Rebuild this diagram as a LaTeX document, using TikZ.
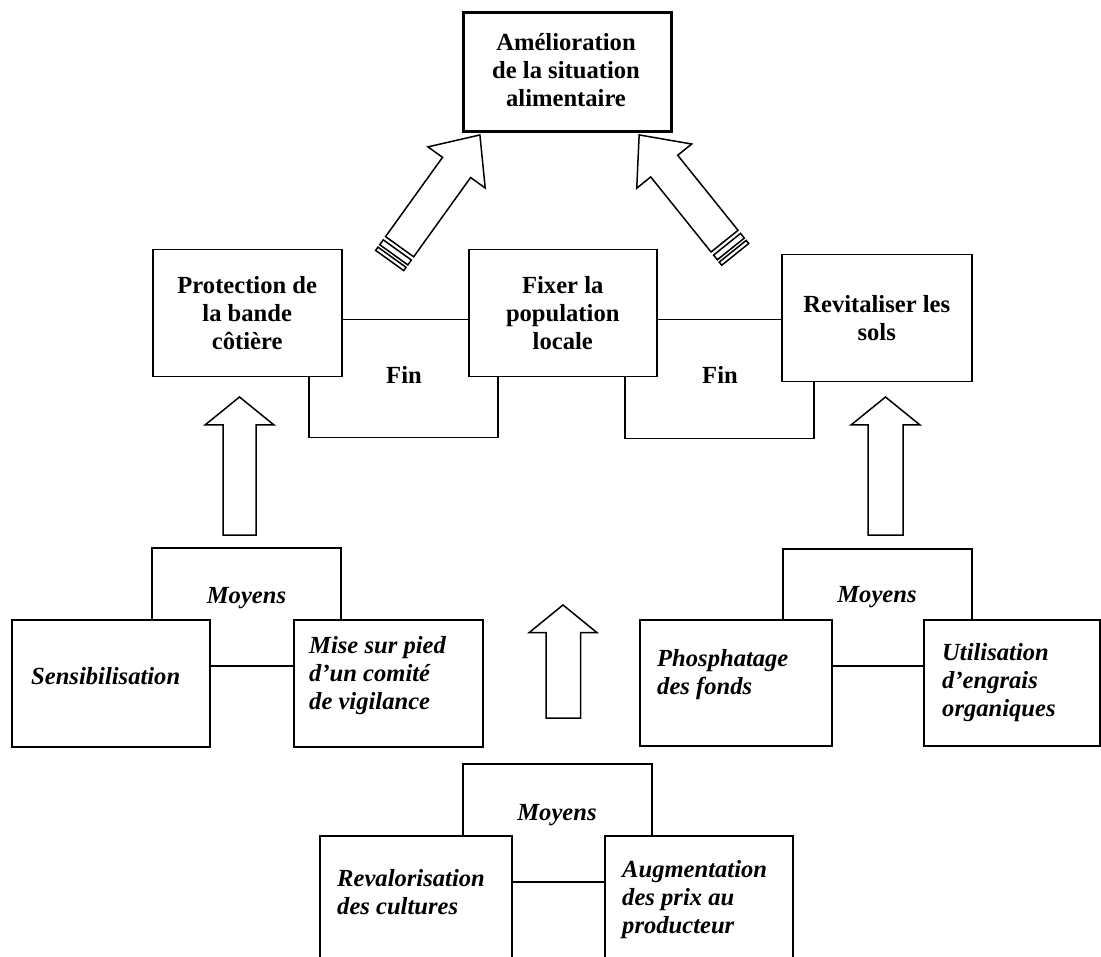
\documentclass[tikz,border=0pt]{standalone}
\usepackage{fontspec}
\setmainfont{Liberation Serif}
\usetikzlibrary{calc}
\begin{document}
\begin{tikzpicture}[x=1pt,y=-1pt,
  box/.style={draw, line width=1.5pt, inner sep=0pt, anchor=north west},
  lbl/.style={inner sep=0pt, font=\fontsize{24.6}{28}\selectfont\bfseries, align=center},
  ilbl/.style={inner sep=0pt, font=\fontsize{24.6}{28}\selectfont\bfseries\itshape, align=left, anchor=west},
  ln/.style={line width=1.5pt},
  blockarrow/.style={draw, line width=1.5pt, fill=white, line join=miter}]
\useasboundingbox (0,0) rectangle (1101,957);
\clip (0,0) rectangle (1101,957);

% top goal
\node[box, line width=3.3pt, minimum width=208pt, minimum height=119pt] (top) at (462,11) {};
\node[lbl] (toptxt) at (566,70.5) {Amélioration\\de la situation\\alimentaire};

% ends
\node[box, minimum width=189pt, minimum height=127pt] (prot) at (152,249) {};
\node[lbl] (prottxt) at (prot.center) {Protection de\\la bande\\côtière};
\node[box, minimum width=188pt, minimum height=127pt] (fix) at (468,249) {};
\node[lbl] (fixtxt) at (fix.center) {Fixer la\\population\\locale};
\node[box, minimum width=190pt, minimum height=127pt] (revit) at (781,254) {};
\node[lbl] (revittxt) at (revit.center) {Revitaliser les\\sols};

\coordinate (pf) at ([yshift=-6.5pt]prot.east);
\draw[ln] (pf) -- (pf -| fix.west);
\coordinate (fr) at ([yshift=-6.5pt]fix.east);
\draw[ln] (fr) -- (fr -| revit.west);

\draw[ln] ($(prot.south west)+(157,0)$) -- ++(0,60) -| ($(fix.south west)+(30,0)$);
\draw[ln] ($(fix.south west)+(157,0)$) -- ++(0,61) -| ($(revit.south west)+(33,0)$);
\node[lbl] (fin1) at (404,375) {Fin};
\node[lbl] (fin2) at (720,375) {Fin};

% diagonal striped arrows
\begin{scope}[shift={(389.7,260.5)}, rotate=54.3]
  \draw[blockarrow] (17,-17.3) -- (114.6,-17.3) -- (114.6,-35.25) -- (154.6,0) -- (114.6,35.25) -- (114.6,17.3) -- (17,17.3) -- cycle;
  \draw[blockarrow] (7,-17.3) rectangle (13,17.3);
  \draw[blockarrow] (0,-17.3) rectangle (4,17.3);
\end{scope}
\begin{scope}[shift={(735.2,254.4)}, rotate=128.8]
  \draw[blockarrow] (17,-17.3) -- (113.3,-17.3) -- (113.3,-35.25) -- (153.3,0) -- (113.3,35.25) -- (113.3,17.3) -- (17,17.3) -- cycle;
  \draw[blockarrow] (7,-17.3) rectangle (13,17.3);
  \draw[blockarrow] (0,-17.3) rectangle (4,17.3);
\end{scope}

% vertical block arrows
\draw[blockarrow] (223,535) -- (223,425) -- (205,425) -- (239.5,397) -- (274,425) -- (256,425) -- (256,535) -- cycle;
\draw[blockarrow] (868,535) -- (868,425) -- (851,425) -- (885.5,397) -- (920,425) -- (903,425) -- (903,535) -- cycle;
\draw[blockarrow] (546,718) -- (546,632.7) -- (529,632.7) -- (563,605) -- (597,632.7) -- (580.7,632.7) -- (580.7,718) -- cycle;

% left means
\node[box, minimum width=198pt, minimum height=127pt] (sens) at (11,619) {};
\node[ilbl] (senstxt) at (31,676) {Sensibilisation};
\node[box, minimum width=189pt, minimum height=127pt] (mise) at (293,619) {};
\node[ilbl] (misetxt) at (309,676) {Mise sur pied\\d’un comité\\de vigilance};
\coordinate (sm) at ([yshift=-47pt]sens.north east);
\draw[ln] (sm) -- (sm -| mise.west);
\draw[ln] ($(sens.north west)+(141,0)$) -- ++(0,-71) -| ($(mise.north west)+(48,0)$);
\node[ilbl, anchor=center] (moy1) at (246.5,598) {Moyens};

% right means
\node[box, minimum width=192pt, minimum height=126pt] (phos) at (639,619) {};
\node[ilbl] (phostxt) at (657,675) {Phosphatage\\des fonds};
\node[box, minimum width=176pt, minimum height=126pt] (util) at (923,619) {};
\node[ilbl] (utiltxt) at (942,683) {Utilisation\\d’engrais\\organiques};
\coordinate (pu) at ([yshift=-47pt]phos.north east);
\draw[ln] (pu) -- (pu -| util.west);
\draw[ln] ($(phos.north west)+(144,0)$) -- ++(0,-70) -| ($(util.north west)+(49,0)$);
\node[ilbl, anchor=center] (moy2) at (877,597.5) {Moyens};

% bottom means
\node[box, minimum width=192pt, minimum height=200pt] (reval) at (319,835) {};
\node[ilbl] (revaltxt) at (337,892) {Revalorisation\\des cultures};
\node[box, minimum width=188pt, minimum height=200pt] (augm) at (604,835) {};
\node[ilbl] (augmtxt) at (622,900) {Augmentation\\des prix au\\producteur};
\coordinate (ra) at ([yshift=-47pt]reval.north east);
\draw[ln] (ra) -- (ra -| augm.west);
\draw[ln] ($(reval.north west)+(144,0)$) -- ++(0,-71) -| ($(augm.north west)+(48,0)$);
\node[ilbl, anchor=center] (moy3) at (557,815) {Moyens};
\end{tikzpicture}
\end{document}
